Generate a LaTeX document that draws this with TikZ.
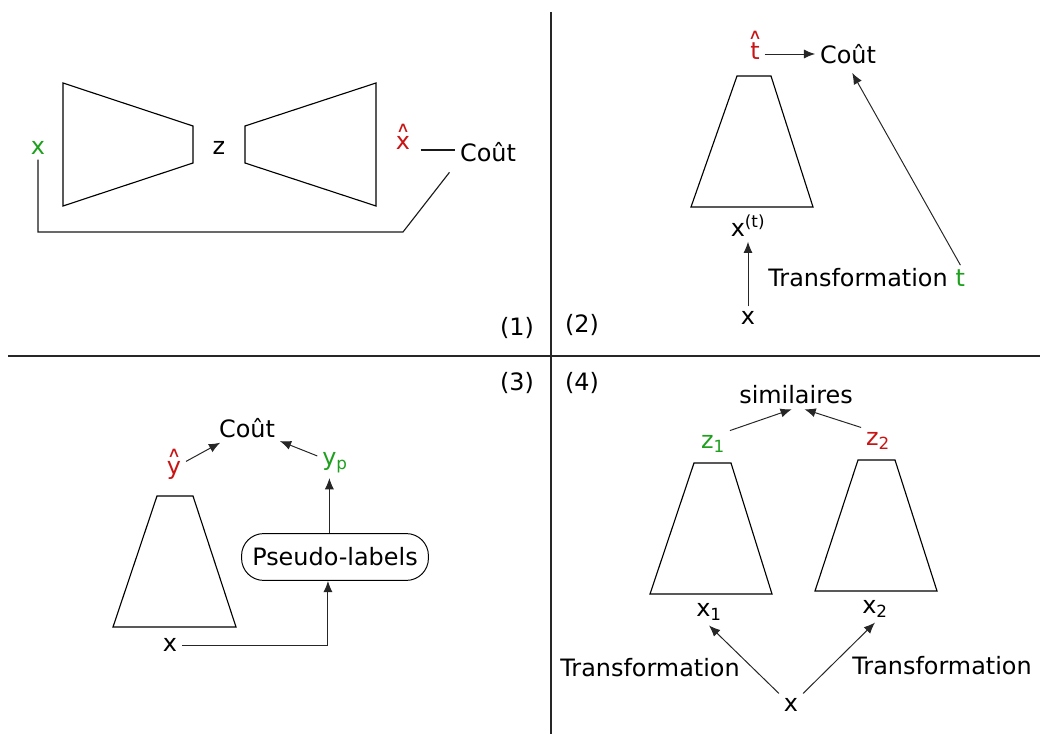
\documentclass[tikz,border=0pt]{standalone}
\usepackage{fontspec}
\usepackage{graphicx}
\setmainfont{DejaVu Sans}
\usetikzlibrary{arrows.meta}
\definecolor{vert}{RGB}{30,160,30}
\definecolor{rouge}{RGB}{200,20,20}
\newcommand{\chap}[2][0.72em]{\ooalign{#2\cr\hidewidth\raisebox{#1}{\scalebox{0.8}[0.6]{∧}}\hidewidth\cr}}
\tikzset{
  arr/.style={-{Latex[length=8pt,width=6.5pt]}, line width=0.7pt, draw=black!85},
  ln/.style={line width=0.8pt, draw=black!90},
  trap/.style={draw, line width=0.8pt},
  pill/.style={draw, rounded corners=0.55cm, minimum height=1.17cm, minimum width=4.67cm, line width=0.7pt},
  sep/.style={line width=0.8pt, draw=black!85},
}
\begin{document}
\begin{tikzpicture}[x=0.025cm, y=-0.025cm, font=\fontsize{17pt}{20pt}\selectfont]
  \useasboundingbox (0,0) rectangle (1040,734);
  % separators and panel numbers
  \draw[sep] (551,12) -- (551,734);
  \draw[sep] (8,356) -- (1040,356);
  \node (n1) at (517,328) {(1)};
  \node (n2) at (582,325) {(2)};
  \node (n3) at (517,383) {(3)};
  \node (n4) at (582,383) {(4)};

  % (1) auto-encoder
  \draw[trap] (63,83) -- (193,126) -- (193,163) -- (63,206) -- cycle;
  \draw[trap] (245,126) -- (376,83) -- (376,206) -- (245,163) -- cycle;
  \node[text=vert] (xin) at (38,148) {x};
  \node (z) at (219,148) {z};
  \node[text=rouge] (xhat) at (403,143) {\chap{x}};
  \node (cout1) at (488,152) {Coût};
  \coordinate (bend1) at (403,232);
  \draw[ln, shorten <=4pt] (xhat.east |- 0,150) -- (cout1.west |- 0,150);
  \draw[ln] (xin.south) |- (bend1) -- ([xshift=-4pt,yshift=-4pt]cout1.south west);

  % (2) transformation prediction
  \draw[trap] (737,76) -- (771,76) -- (813,207) -- (691,207) -- cycle;
  \node[text=rouge] (that) at (755,51) {\chap[0.84em]{t}};
  \node (cout2) at (848,54) {Coût};
  \node (xt) at (748,226) {x\textsuperscript{(t)}};
  \node (x2) at (748,318) {x};
  \node (trt) at (858,278) {Transformation};
  \node[text=vert, anchor=base west, inner xsep=2pt] (tt) at (trt.base east) {t};
  \draw[arr] (that.east |- cout2) -- (cout2);
  \draw[arr] (x2) -- (xt);
  \draw[arr] (tt.north) -- ([xshift=3pt,yshift=-3pt]cout2.south);

  % (3) pseudo-labels
  \draw[trap] (157,496) -- (193,496) -- (236,627) -- (113,627) -- cycle;
  \node[text=rouge] (yhat) at (174,468) {\chap{y}};
  \node (cout3) at (247,428) {Coût};
  \node[text=vert] (yp) at (335,463) {y\textsubscript{p}};
  \node[pill] (pseudo) at (335,557) {Pseudo-labels};
  \node (x3) at (170,645) {x};
  \draw[arr] (yhat) -- (cout3);
  \draw[arr] (yp) -- (cout3);
  \draw[arr] ([xshift=-4pt]pseudo.north) -- ([xshift=-4pt]yp.south);
  \draw[arr] (x3.east) -| ([xshift=-5pt]pseudo.south);

  % (4) contrastive
  \draw[trap] (694,463) -- (731,463) -- (772,594) -- (650,594) -- cycle;
  \draw[trap] (858,460) -- (895,460) -- (937,591) -- (815,591) -- cycle;
  \node (sim) at (796,395) {similaires};
  \node[text=vert] (z1) at (713,444) {z\textsubscript{1}};
  \node[text=rouge] (z2) at (878,441) {z\textsubscript{2}};
  \node (x41) at (709,612) {x\textsubscript{1}};
  \node (x42) at (875,609) {x\textsubscript{2}};
  \node (x4) at (791,705) {x};
  \node (tr1) at (650,668) {Transformation};
  \node (tr2) at (942,666) {Transformation};
  \draw[arr] (z1.north east) -- ([xshift=-3pt]sim.south);
  \draw[arr] (z2.north west) -- ([xshift=6pt]sim.south);
  \draw[arr] (x4.north west) -- (x41.south);
  \draw[arr] (x4.north east) -- (x42.south);
\end{tikzpicture}
\end{document}
